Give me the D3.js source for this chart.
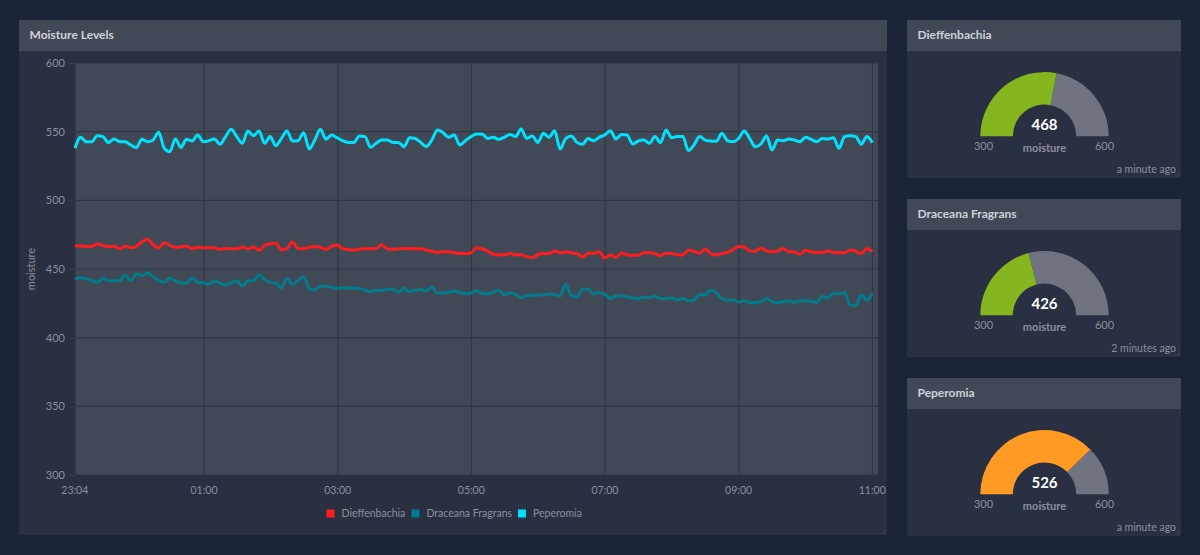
<!DOCTYPE html>
<html><head><meta charset="utf-8">
<script src="https://cdn.jsdelivr.net/npm/d3@7/dist/d3.min.js"></script>
<style>
html,body{margin:0;padding:0;background:#1b2436;overflow:hidden}
svg{display:block}
text{font-family:Lato,sans-serif}
</style></head><body><svg id="c" width="1200" height="555"></svg>
<script>
const peperomia=[537.9,546,542.7,542.7,547,546.4,542,544.7,542.7,542.7,540.3,538.4,544.4,542.7,544,549.5,537.9,535.4,544.7,538.4,544.4,543.2,547.6,542.7,543.4,544.7,540.8,546.4,551.7,546.4,541.5,550.5,547,550.5,541.5,546.4,539.8,545,550.5,543.2,543.4,549.3,537.4,543.9,551.7,544.4,547.6,545.6,543.4,
542.2,542.2,546.8,546.4,538.6,541.5,544,544,542.2,542.2,539,545.6,545,542.2,539,544,551.2,549.3,545.9,547.6,540.3,543.4,546.4,548.3,548.3,545,545.9,544.4,545.9,548,546.4,552,545,546.8,542.2,548.8,545.9,550.7,537.4,545,546.8,542.2,540.8,545,543.4,545.9,547.6,550.7,
544.7,548,547.6,541,543.2,543.9,541.5,546.4,542,551.2,545.6,546.4,546.4,536.2,540.3,546.4,543.9,543.2,543,548.8,543.4,542.7,545,550.5,545,539,541,546.8,536.7,543.9,543.4,544.7,543.9,542.7,545.9,544.4,542.7,545,544.7,545.6,537.9,546.4,547,546.4,540.8,546.4,542];
const dieffenbachia=[467,466.7,466.5,466.3,468.4,467,466.3,466.5,464.8,466.5,465.5,466.5,469.7,471.6,467.7,465.3,469.2,467.2,465.8,466,466.7,464.8,465.8,465.5,465.5,465.5,464.3,465,464.8,464.8,466,464.6,466,463.6,467.2,468.4,468.7,464.1,464.8,469.7,465,464.8,465.8,466.3,465.8,464.3,466.5,467.5,464.8,
464.3,463.6,464.6,464.8,464.8,464.8,467.7,464.8,464.3,464.8,465,464.8,464.8,464.8,463.8,462.9,462.1,462.6,462.6,461.9,461.4,461.2,461.7,465.5,464.6,463.1,460.7,460.4,460.2,461.4,460.2,460.4,459,458.3,460.4,461.2,461.2,463.1,461.7,462.6,461.7,461.4,458.5,461.4,461.4,462.6,458,460.4,
458.3,461.7,460.2,460,460,461.9,461.9,461.2,459.7,461.7,461.2,460.4,460.2,463.6,462.9,461.4,464.6,461.2,460.2,461.2,462.1,464.1,466.3,466,463.1,462.9,465.3,463.3,462.6,463.1,465,462.6,462.4,460.7,463.6,462.6,462.1,462.1,463.1,462.1,461.9,461.9,463.6,462.9,461.2,465,462.6];
const draceana=[442.7,443.9,442.7,441.7,440.3,443.4,441.5,441.5,441.5,445.6,441.7,446.4,445.1,447.1,444.7,441.7,440.3,443.2,441.3,439.8,439.8,443.7,440.3,440,439.1,441.3,439.6,438.3,440,441.5,437.6,441.3,441.5,445.9,442.2,440.3,439.6,436.4,443.2,438.8,441.7,444.4,435.7,434.7,437.4,437.4,436.7,435.9,436.2,
436.2,436.2,435.9,434.7,433.5,434.5,434.2,435.2,435.4,433,435.9,433.5,434.5,435,434,436.9,432.5,432.5,433,434,433,432,432.5,434,432.3,432,433.3,434.5,431.1,432.5,431.6,429.1,430.6,430.8,431.1,431.1,432,431.3,430.6,439.1,430.8,429.6,435,435.4,432,432.8,431.6,428.4,
430.3,430.6,429.6,429.1,428.4,429.6,429.1,430.3,428.4,428.6,428.9,427.4,428.6,426.9,427.4,431.3,431.1,434.7,432.8,428.4,427.4,427.4,426,426.9,425.5,425.5,426.2,428.6,426.2,425.5,426.2,426.9,425.5,426.9,426.9,426.5,425.5,429.9,428.9,432.3,431.8,433,423.8,423.3,431.1,427.4,432.5];
const seriesNames=["Dieffenbachia","Draceana Fragrans","Peperomia"];
const seriesColors=["#ff1c1c","#007c8c","#00e3ff"];
const yTicks=[300,350,400,450,500,550,600];
const xTickLabels=["23:04","01:00","03:00","05:00","07:00","09:00","11:00"];
const gaugeNames=["Dieffenbachia","Draceana Fragrans","Peperomia"];
const gaugeValues=[468,426,526];
const gaugeColors=["#85b61f","#85b61f","#ff9a25"];
const gaugeAges=["a minute ago","2 minutes ago","a minute ago"];
const gaugeRange=[300,600];

const svg=d3.select("#c");
const C={panel:"#283042",head:"#414957",plot:"#424956",grid:"#2f3745",tick:"#8c909a",title:"#cfd2d7"};
function panel(x,y,w,h,title){
  svg.append("rect").attr("x",x).attr("y",y).attr("width",w).attr("height",h).attr("fill",C.panel);
  svg.append("rect").attr("x",x).attr("y",y).attr("width",w).attr("height",31).attr("fill",C.head);
  svg.append("text").attr("x",x+10.5).attr("y",y+19).attr("fill",C.title)
    .attr("font-size",12).attr("font-weight",700).text(title);
  svg.append("path").attr("d",`M${x+w-6} ${y+h-2}h4v-4`).attr("fill","none").attr("stroke","#3c4554").attr("stroke-width",1);
}
panel(19,20,868,515,"Moisture Levels");
panel(907,20,274,158,gaugeNames[0]);
panel(907,199,274,158,gaugeNames[1]);
panel(907,378,274,158,gaugeNames[2]);

// time chart
const parse=t=>{const [h,m]=t.split(":").map(Number);return new Date(Date.UTC(2020,0,h>=12?1:2,h,m));};
const xDates=xTickLabels.map(parse);
const plot={l:75,r:878,t:63,b:475};
const spanEnd=new Date(+xDates[6]+5*60000);
const x=d3.scaleUtc().domain([xDates[0],spanEnd]).range([plot.l,plot.r]);
const y=d3.scaleLinear().domain(gaugeRange).range([plot.b,plot.t]);
svg.append("rect").attr("x",plot.l).attr("y",plot.t).attr("width",plot.r-plot.l).attr("height",plot.b-plot.t).attr("fill",C.plot);

const yAxis=svg.append("g").attr("transform",`translate(${plot.l},0)`)
  .call(d3.axisLeft(y).tickValues(yTicks).tickSize(6).tickPadding(4));
const xAxis=svg.append("g").attr("transform",`translate(-0.7,${plot.b})`)
  .call(d3.axisBottom(x).tickValues(xDates).tickFormat((d,i)=>xTickLabels[i]).tickSize(0).tickPadding(12));
yAxis.select(".domain").remove();xAxis.select(".domain").remove();
yAxis.selectAll("line").attr("stroke","#3c4554");
yAxis.selectAll("text").attr("fill",C.tick).attr("font-size",11).style("font-family","Lato,sans-serif");
xAxis.selectAll("text").attr("fill",C.tick).attr("font-size",10.5).style("font-family","Lato,sans-serif");
// grid
svg.append("g").selectAll("line").data(yTicks).join("line")
  .attr("x1",plot.l).attr("x2",plot.r).attr("y1",d=>y(d)).attr("y2",d=>y(d))
  .attr("stroke",C.grid).attr("stroke-width",1.2);
svg.append("g").selectAll("line").data(xDates).join("line")
  .attr("y1",plot.t).attr("y2",plot.b).attr("x1",d=>x(d)).attr("x2",d=>x(d))
  .attr("stroke",C.grid).attr("stroke-width",1.2);
svg.append("line").attr("x1",plot.l).attr("x2",plot.l).attr("y1",plot.t).attr("y2",plot.b).attr("stroke",C.grid);
svg.append("text").attr("transform",`translate(34.5,269) rotate(-90)`).attr("text-anchor","middle")
  .attr("fill",C.tick).attr("font-size",11).text("moisture");

const seriesValues=[dieffenbachia,draceana,peperomia];
const spanMs=xDates[6]-xDates[0];
seriesValues.forEach((vals,k)=>{
  const line=d3.line()
    .x((d,i)=>x(new Date(+xDates[0]+spanMs*i/(vals.length-1))))
    .y(d=>y(d)).curve(d3.curveMonotoneX);
  svg.append("path").attr("d",line(vals)).attr("fill","none")
    .attr("stroke",seriesColors[k]).attr("stroke-width",3).attr("stroke-linejoin","round");
});

// legend
const legendX=[326.5,411.5,518];
seriesNames.forEach((n,i)=>{
  svg.append("rect").attr("x",legendX[i]).attr("y",509.5).attr("width",8).attr("height",8).attr("fill",seriesColors[i]);
  svg.append("text").attr("x",legendX[i]+15).attr("y",517).attr("fill",C.tick).attr("font-size",10.5).text(n);
});

// gauges
const ang=d3.scaleLinear().domain(gaugeRange).range([-Math.PI/2,Math.PI/2]);
const arc=d3.arc().innerRadius(31.7).outerRadius(64.2);
gaugeValues.forEach((v,i)=>{
  const top=20+179*i;
  const g=svg.append("g").attr("transform",`translate(1044.5,${top+116.3})`);
  g.append("path").attr("d",arc({startAngle:ang(v),endAngle:ang(gaugeRange[1])})).attr("fill","#6f7480");
  g.append("path").attr("d",arc({startAngle:ang(gaugeRange[0]),endAngle:ang(v)})).attr("fill",gaugeColors[i]);
  g.append("text").attr("x",0).attr("y",-6).attr("text-anchor","middle").attr("fill","#fff")
    .attr("font-size",15).attr("font-weight",700).text(v);
  g.append("text").attr("x",0).attr("y",16).attr("text-anchor","middle").attr("fill",C.tick)
    .attr("font-size",11).attr("font-weight",700).text("moisture");
  g.append("text").attr("x",-61).attr("y",13.5).attr("text-anchor","middle").attr("fill",C.tick)
    .attr("font-size",11).text(gaugeRange[0]);
  g.append("text").attr("x",60).attr("y",13.5).attr("text-anchor","middle").attr("fill",C.tick)
    .attr("font-size",11).text(gaugeRange[1]);
  svg.append("text").attr("x",1176).attr("y",top+153).attr("text-anchor","end").attr("fill",C.tick)
    .attr("font-size",10.5).text(gaugeAges[i]);
});
</script></body></html>
